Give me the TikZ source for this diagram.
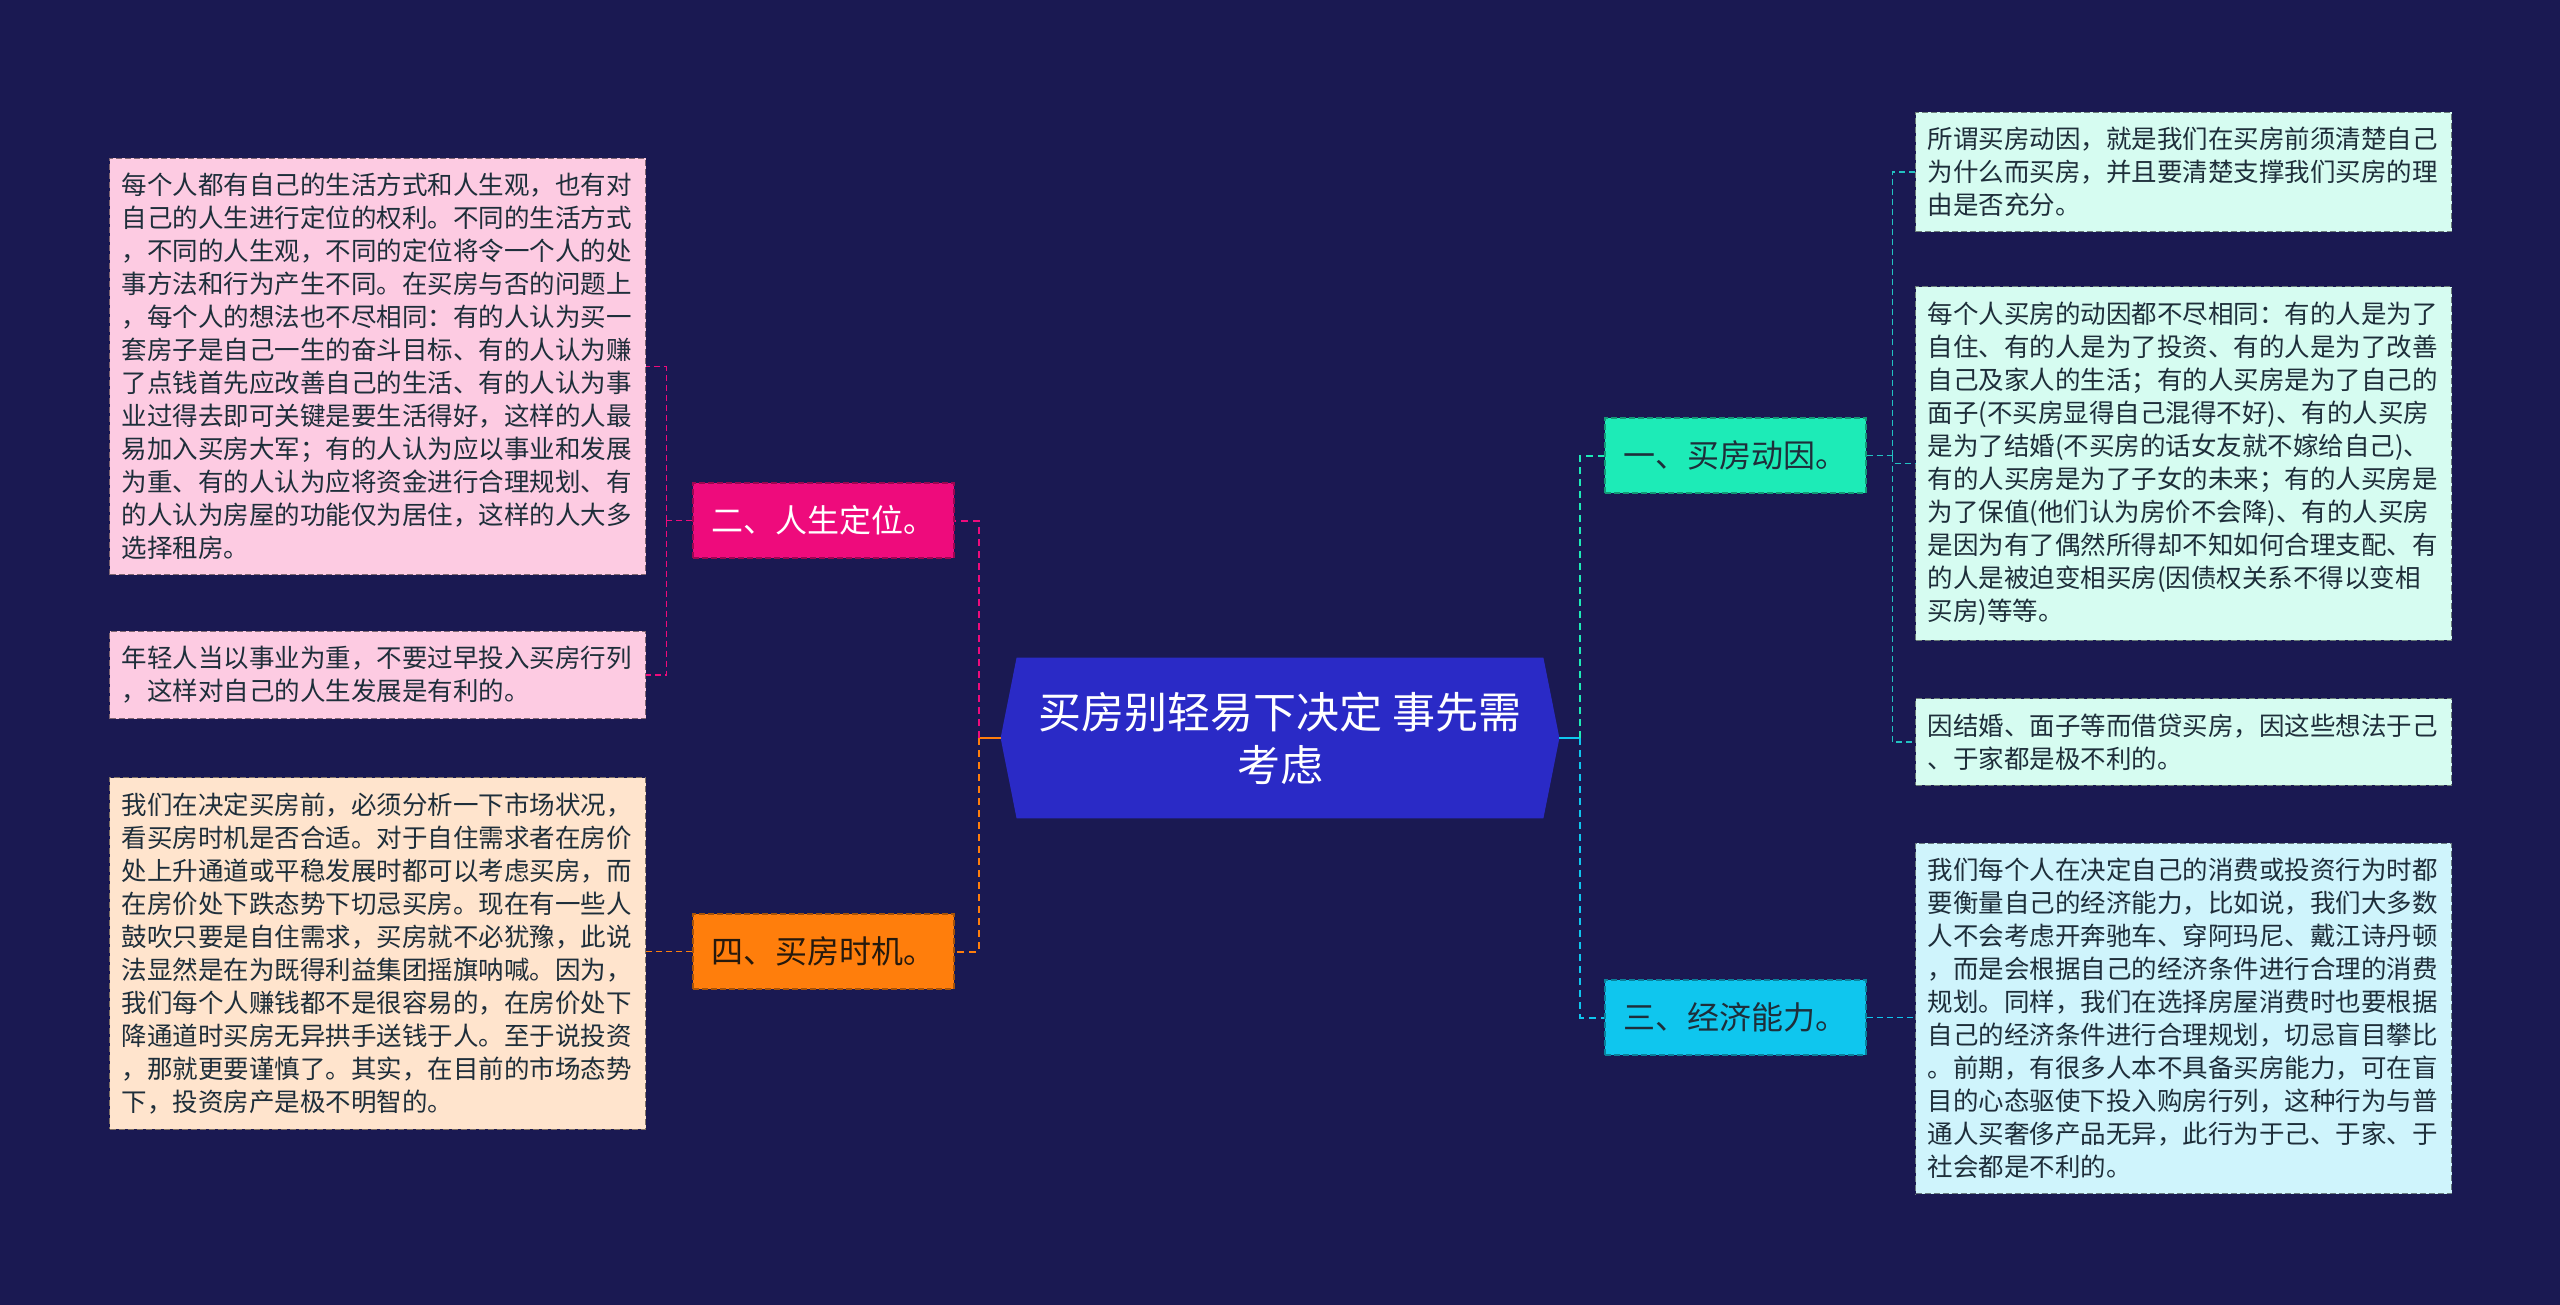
\documentclass[tikz,border=0pt]{standalone}
\usepackage{fontspec}
\setmainfont{Noto Sans CJK SC}
\usepackage{tikz}
\usetikzlibrary{positioning,backgrounds}
\definecolor{bgnavy}{HTML}{1A1952}
\definecolor{rootblue}{HTML}{2A2AC6}
\definecolor{mint}{HTML}{1DEBB7}
\definecolor{skycyan}{HTML}{0FC6EE}
\definecolor{hotpink}{HTML}{EE0B7C}
\definecolor{tangerine}{HTML}{FF7E0C}
\definecolor{mintline}{HTML}{22C2C2}
\definecolor{leafmint}{HTML}{D6FCF1}
\definecolor{leafsky}{HTML}{CFF4FC}
\definecolor{leafpink}{HTML}{FDCBE2}
\definecolor{leafpeach}{HTML}{FFE4CD}
\definecolor{darkink}{HTML}{1E2E3A}
\tikzset{
  rootnode/.style={minimum width=279pt,minimum height=80pt,align=center,text=white,font=\fontsize{21.5}{26.5}\selectfont},
  topicbox/.style={draw,dash pattern=on 3pt off 1.5pt,line width=0.6pt,minimum width=130.5pt,minimum height=37.5pt,inner sep=0pt,font=\fontsize{16}{19}\selectfont},
  leafbox/.style={draw,dash pattern=on 3pt off 1.5pt,line width=0.5pt,text width=256pt,inner xsep=6pt,inner ysep=7.5pt,align=left,anchor=west,text=darkink,font=\fontsize{12.75}{16.5}\selectfont},
  link/.style={dash pattern=on 3.5pt off 2.5pt,line width=1pt},
  thinlink/.style={dash pattern=on 3pt off 2pt,line width=0.6pt}
}
\begin{document}
\begin{tikzpicture}[x=0.5pt,y=-0.5pt]
% centre and main topics
\node[rootnode] (root) at (1280,738) {买房别轻易下决定 事先需\\考虑};
\node[topicbox,fill=mint,draw=mint!65!black,text=darkink] (t1) at (1735.5,455.5) {一、买房动因。};
\node[topicbox,fill=hotpink,draw=hotpink!65!black,text=white] (t2) at (823.5,520.5) {二、人生定位。};
\node[topicbox,fill=skycyan,draw=skycyan!65!black,text=darkink] (t3) at (1735.5,1017.5) {三、经济能力。};
\node[topicbox,fill=tangerine,draw=tangerine!65!black,text=black!80!brown] (t4) at (823.5,951.5) {四、买房时机。};
% leaves, right side
\node[leafbox,fill=leafmint,draw=leafmint!50!black] (r1) at (1915,172) {所谓买房动因，就是我们在买房前须清楚自己\\为什么而买房，并且要清楚支撑我们买房的理\\由是否充分。};
\node[leafbox,fill=leafmint,draw=leafmint!50!black] (r2) at (1915,463.5) {每个人买房的动因都不尽相同：有的人是为了\\自住、有的人是为了投资、有的人是为了改善\\自己及家人的生活；有的人买房是为了自己的\\面子(不买房显得自己混得不好)、有的人买房\\是为了结婚(不买房的话女友就不嫁给自己)、\\有的人买房是为了子女的未来；有的人买房是\\为了保值(他们认为房价不会降)、有的人买房\\是因为有了偶然所得却不知如何合理支配、有\\的人是被迫变相买房(因债权关系不得以变相\\买房)等等。};
\node[leafbox,fill=leafmint,draw=leafmint!50!black] (r3) at (1915,742) {因结婚、面子等而借贷买房，因这些想法于己\\、于家都是极不利的。};
\node[leafbox,fill=leafsky,draw=leafsky!50!black] (r4) at (1915,1018.5) {我们每个人在决定自己的消费或投资行为时都\\要衡量自己的经济能力，比如说，我们大多数\\人不会考虑开奔驰车、穿阿玛尼、戴江诗丹顿\\，而是会根据自己的经济条件进行合理的消费\\规划。同样，我们在选择房屋消费时也要根据\\自己的经济条件进行合理规划，切忌盲目攀比\\。前期，有很多人本不具备买房能力，可在盲\\目的心态驱使下投入购房行列，这种行为与普\\通人买奢侈产品无异，此行为于己、于家、于\\社会都是不利的。};
% leaves, left side
\node[leafbox,fill=leafpink,draw=leafpink!50!black] (l1) at (109,366.5) {每个人都有自己的生活方式和人生观，也有对\\自己的人生进行定位的权利。不同的生活方式\\，不同的人生观，不同的定位将令一个人的处\\事方法和行为产生不同。在买房与否的问题上\\，每个人的想法也不尽相同：有的人认为买一\\套房子是自己一生的奋斗目标、有的人认为赚\\了点钱首先应改善自己的生活、有的人认为事\\业过得去即可关键是要生活得好，这样的人最\\易加入买房大军；有的人认为应以事业和发展\\为重、有的人认为应将资金进行合理规划、有\\的人认为房屋的功能仅为居住，这样的人大多\\选择租房。};
\node[leafbox,fill=leafpink,draw=leafpink!50!black] (l2) at (109,675) {年轻人当以事业为重，不要过早投入买房行列\\，这样对自己的人生发展是有利的。};
\node[leafbox,fill=leafpeach,draw=leafpeach!50!black] (l3) at (109,953.5) {我们在决定买房前，必须分析一下市场状况，\\看买房时机是否合适。对于自住需求者在房价\\处上升通道或平稳发展时都可以考虑买房，而\\在房价处下跌态势下切忌买房。现在有一些人\\鼓吹只要是自住需求，买房就不必犹豫，此说\\法显然是在为既得利益集团摇旗呐喊。因为，\\我们每个人赚钱都不是很容易的，在房价处下\\降通道时买房无异拱手送钱于人。至于说投资\\，那就更要谨慎了。其实，在目前的市场态势\\下，投资房产是极不明智的。};
% connectors
\coordinate (lhub) at ([xshift=-11pt]root.west);
\coordinate (rhub) at ([xshift=10.5pt]root.east);
\coordinate (t2hub) at ([xshift=-13pt]t2.west);
\coordinate (t1hub) at ([xshift=13pt]t1.east);
\draw[tangerine,line width=1.2pt] (root.west) -- (lhub);
\draw[link,hotpink] (lhub) |- (t2.east);
\draw[link,tangerine] (lhub) |- (t4.east);
\draw[skycyan,line width=1.2pt] (root.east) -- (rhub);
\draw[link,mint] (rhub) |- (t1.west);
\draw[link,skycyan] (rhub) |- (t3.west);
\draw[thinlink,hotpink] (t2.west) -- (t2hub);
\foreach \n in {l1,l2}{\draw[thinlink,hotpink] (t2hub) |- (\n.east);}
\draw[thinlink,tangerine] (t4.west) -- (t4.west -| l3.east);
\draw[thinlink,mintline] (t1.east) -- (t1hub);
\foreach \n in {r1,r2,r3}{\draw[thinlink,mintline] (t1hub) |- (\n.west);}
\draw[thinlink,skycyan] (t3.east) -- (t3.east -| r4.west);
\begin{scope}[on background layer]
\fill[bgnavy] (0,0) rectangle (2560,1305);
\fill[rootblue] (root.west) -- ([xshift=8pt]root.north west) -- ([xshift=-8pt]root.north east) -- (root.east) -- ([xshift=-8pt]root.south east) -- ([xshift=8pt]root.south west) -- cycle;
\end{scope}
\end{tikzpicture}
\end{document}
